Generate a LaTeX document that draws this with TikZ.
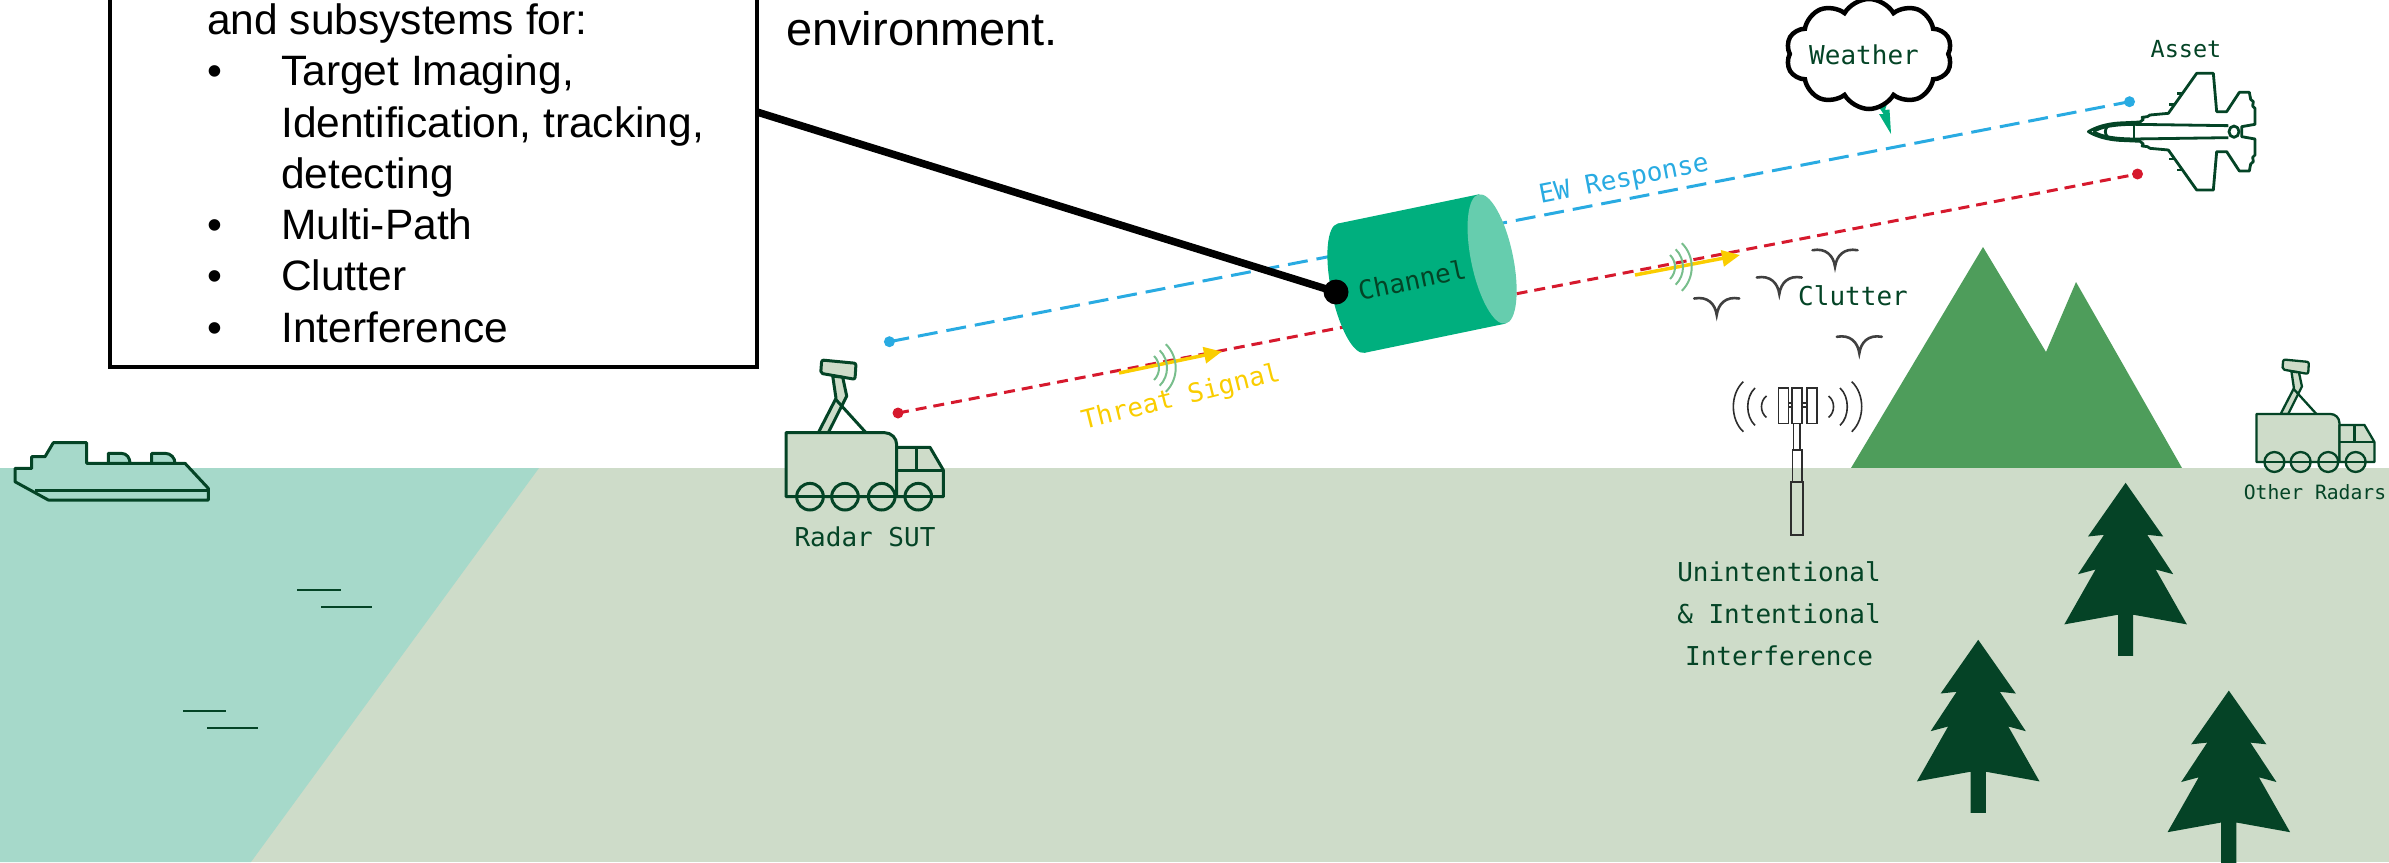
\documentclass[tikz,border=0pt]{standalone}
\usepackage{fontspec}
\setmainfont{Liberation Sans}
\setmonofont{DejaVu Sans Mono}
\usetikzlibrary{shapes.symbols,arrows.meta}

\definecolor{inkgreen}{RGB}{4,68,38}
\definecolor{groundcol}{RGB}{206,220,201}
\definecolor{watercol}{RGB}{166,217,202}
\definecolor{mountcol}{RGB}{78,157,91}
\definecolor{treecol}{RGB}{5,67,38}
\definecolor{chancol}{RGB}{0,175,126}
\definecolor{chanend}{RGB}{102,205,174}
\definecolor{ewblue}{RGB}{41,171,226}
\definecolor{threatred}{RGB}{214,25,45}
\definecolor{signalyellow}{RGB}{250,205,0}
\definecolor{wavegreen}{RGB}{120,190,140}
\definecolor{birdgray}{RGB}{64,64,64}
\definecolor{towergray}{RGB}{45,45,45}

\tikzset{
  monolabel/.style={font=\ttfamily\fontsize{26}{30}\selectfont, text=inkgreen, inner sep=0pt},
  boxtext/.style={font=\fontsize{42.5}{51}\selectfont, anchor=base west, inner sep=0pt},
  pinetree/.pic={
    \fill[treecol] (0,0) -- (37.6,53.7) -- (21.6,52) -- (47.6,91.4) -- (30.1,86.7)
      -- (61.3,141.6) -- (7.6,131.9) -- (7.6,173.1) -- (-7.6,173.1) -- (-7.6,131.9)
      -- (-61.3,141.6) -- (-30.1,86.7) -- (-47.6,91.4) -- (-21.6,52) -- (-37.6,53.7) -- cycle;
  },
  bird/.pic={
    \draw[birdgray, line width=2.6, line cap=round]
      (-22.5,-16.5) .. controls (-9,-19) and (-1.5,-11) .. (0,0)
      .. controls (1.5,-11) and (9,-19) .. (22.5,-16.5);
  },
  radiowaves/.pic={
    \foreach \r in {17,25,33.7}
      \draw[wavegreen, line width=2] (0,0) ++(-45:\r) arc[start angle=-45, end angle=45, radius=\r];
  },
  radartruck/.pic={
    \begin{scope}[draw=inkgreen, fill=groundcol, line join=round]
      % dish and its strut
      \filldraw[rounded corners=2] (35.7,-136.7) -- (70,-133.4) -- (69,-117.4) -- (34.7,-123.4) -- cycle;
      \filldraw (46.7,-120.7) -- (56.7,-119.4) -- (60.7,-100.7) -- (42.3,-64) -- (32.3,-64) -- (50,-98.4) -- cycle;
      \draw (50,-97) -- (80,-64);
      % shelter body with rounded roof corner
      \filldraw (0,0) -- (0,-64) -- (98.7,-64) arc[start angle=-90, end angle=0, radius=12] -- (110.7,0) -- cycle;
      % cab
      \filldraw (110.7,0) -- (110.7,-49.4) -- (144,-49.4) -- (157.3,-26.7) -- (157.3,0) -- cycle;
      \draw (130.7,-49.4) -- (130.7,-26.7) (110.7,-26.7) -- (157.3,-26.7);
      % wheels on the chassis line
      \foreach \wx in {24,59,95.7,132.3} \filldraw (\wx,0) circle[radius=13.3];
      \draw (0,0) -- (157.3,0);
    \end{scope}
  },
}

\begin{document}
\begin{tikzpicture}[x=1pt,y=-1pt]
\useasboundingbox (0,0) rectangle (2389,862);
\clip (0,0) rectangle (2389,862);

% mountains behind the horizon
\fill[mountcol] (1851,468) -- (1983,247) -- (2046,352) -- (2076,282) -- (2182,468) -- cycle;

% land and sea
\fill[groundcol] (0,468) rectangle (2389,862);
\fill[watercol] (0,468) -- (539,468) -- (251,862) -- (0,862) -- cycle;

% ripples on the water
\begin{scope}[draw=inkgreen, line width=2]
  \draw (297,590) -- (341,590) (321,607) -- (372,607);
  \draw (183,711) -- (226,711) (207,728) -- (258,728);
\end{scope}

% ship
\begin{scope}[draw=inkgreen, fill=watercol, line width=3, line join=round]
  \filldraw (108.3,463.3) -- (108.3,453.3) -- (121,453.3) .. controls (127,453.3) and (130,458) .. (130,463.3);
  \filldraw (151.7,463.3) -- (151.7,453.3) -- (165,453.3) .. controls (171,453.3) and (175,458) .. (175,463.3);
  \filldraw (15,468.3) -- (31.7,468.3) -- (31.7,456.7) -- (45,456.7) -- (53.3,442.7) -- (86.7,442.7)
    -- (86.7,463.3) -- (185,463.3) -- (208.3,488.3) -- (208.3,500) -- (48.3,500) -- (15,481.7) -- cycle;
  \draw (35,490) -- (208.3,490);
\end{scope}

% cell tower with radiating waves
\begin{scope}[draw=towergray, line width=1.6]
  \draw (1793.3,423.3) rectangle (1800,450);
  \draw (1792.3,450) rectangle (1801.7,481.7);
  \draw (1790.7,481.7) rectangle (1802.7,535);
  \filldraw[fill=white] (1788.3,402.7) rectangle (1806.7,406.7);
  \filldraw[fill=white] (1778.3,387.7) rectangle (1788.3,423.3);
  \filldraw[fill=white] (1791.7,387.7) rectangle (1801.7,423.3);
  \filldraw[fill=white] (1806.7,387.7) rectangle (1816.7,423.3);
  \draw (1766.5,396) .. controls (1759.8,401) and (1759.8,412.4) .. (1766.5,417.4);
  \draw (1755,388) .. controls (1745.3,397) and (1745.3,416.4) .. (1755,425.4);
  \draw (1743.3,381.7) .. controls (1730,394) and (1730,419.4) .. (1743.3,431.7);
  \draw (1828.5,396) .. controls (1835.2,401) and (1835.2,412.4) .. (1828.5,417.4);
  \draw (1840,388) .. controls (1849.7,397) and (1849.7,416.4) .. (1840,425.4);
  \draw (1851.7,381.7) .. controls (1865,394) and (1865,419.4) .. (1851.7,431.7);
\end{scope}

% forest
\pic at (2125.6,482.8) {pinetree};
\pic at (1978.2,639.8) {pinetree};
\pic at (2228.8,690.6) {pinetree};

% radar trucks
\pic[line width=3] at (786,496.7) {radartruck};
\pic[line width=2.3, scale=0.75] at (2256.4,462) {radartruck};
\node[monolabel] (sutlabel) at (865,537) {Radar SUT};
\node[monolabel, font=\ttfamily\fontsize{19.7}{23}\selectfont] (otherlabel) at (2315,492) {Other Radars};

% signal paths
\coordinate (ewstart) at (889.4,341.7);
\coordinate (ewend) at (2129.5,101.7);
\coordinate (thstart) at (898,413);
\coordinate (thend) at (2137.5,174);
\draw[ewblue, line width=3, dash pattern=on 20pt off 9pt] (ewstart) -- (ewend);
\draw[threatred, line width=3, dash pattern=on 11pt off 7pt] (thstart) -- (thend);
\fill[ewblue] (ewstart) circle[radius=5.5] (ewend) circle[radius=5.5];
\fill[threatred] (thstart) circle[radius=5.5] (thend) circle[radius=5.5];

% outgoing pulses
\coordinate (pulseAs) at (1119,373);
\coordinate (pulseAe) at (1222,351.5);
\coordinate (pulseBs) at (1635,275);
\coordinate (pulseBe) at (1740,255);
\draw[signalyellow, line width=3.5, -{Triangle[length=18pt,width=16pt]}] (pulseAs) -- (pulseAe);
\draw[signalyellow, line width=3.5, -{Triangle[length=18pt,width=16pt]}] (pulseBs) -- (pulseBe);
\pic at (1142,368) {radiowaves};
\pic at (1658,267) {radiowaves};

% clutter birds
\pic at (1835,266.7) {bird};
\pic at (1779.3,294) {bird};
\pic at (1716.7,315) {bird};
\pic at (1859.3,353.3) {bird};
\node[monolabel] (clutterlabel) at (1853,296) {Clutter};

% channel cylinder
\begin{scope}[shift={(1421.6,273.6)}, rotate=11.7]
  \fill[chancol] (-72,-66) rectangle (72,66);
  \fill[chancol] (-72,0) ellipse[x radius=20, y radius=66];
  \fill[chanend] (72,0) ellipse[x radius=21, y radius=66];
\end{scope}
\node[monolabel, rotate=11.7] (chanlabel) at (1412,280) {Channel};

% description box
\node[draw, line width=4, minimum width=647, minimum height=440, anchor=south west, inner sep=0pt, outer sep=0pt] (scopebox) at (110,367) {};
\node[boxtext] (boxline0) at (207,34) {and subsystems for:};
\node[boxtext] (bullet1) at (207,85) {•};
\node[boxtext] (boxline1) at (281,85) {Target Imaging,};
\node[boxtext] (boxline2) at (281,137) {Identification, tracking,};
\node[boxtext] (boxline3) at (281,188) {detecting};
\node[boxtext] (bullet2) at (207,239) {•};
\node[boxtext] (boxline4) at (281,239) {Multi-Path};
\node[boxtext] (bullet3) at (207,290) {•};
\node[boxtext] (boxline5) at (281,290) {Clutter};
\node[boxtext] (bullet4) at (207,342) {•};
\node[boxtext] (boxline6) at (281,342) {Interference};
\node[boxtext, font=\fontsize{47}{56}\selectfont] (envtext) at (786,45) {environment.};

% pointer from the box to the channel
\coordinate (boxpin) at (757,112);
\coordinate (chanpin) at (1336,292);
\draw[line width=7.5] (boxpin) -- (chanpin);
\fill (chanpin) circle[radius=12.5];

% weather
\fill[chancol] (1873,98) -- (1889,98) -- (1885,110) -- (1889.5,109.5) -- (1891,134) -- (1879,114) -- (1883.5,114) -- cycle;
\node[cloud, cloud puffs=10, cloud puff arc=120, cloud ignores aspect, minimum width=166pt, minimum height=110pt,
      draw=black, line width=4.5pt, fill=white, inner sep=0pt] (weathercloud) at (1869,54) {};
\node[monolabel] (weatherlabel) at (1864,55) {Weather};

% asset aircraft
\node[monolabel, font=\ttfamily\fontsize{23.5}{28}\selectfont] (assetlabel) at (2186,49) {Asset};
\begin{scope}[shift={(2060,60)}, x=0.3333pt, y=-0.3333pt, draw=inkgreen, line width=2.8, line join=round]
  \filldraw[fill=white] (85,215) .. controls (110,200) and (140,192) .. (175,189) -- (240,186) -- (250,178)
    -- (246,172) -- (262,170) -- (270,165) -- (325,160) -- (410,40) -- (460,40) -- (470,155) -- (500,155)
    -- (538,97) -- (568,97) -- (572,118) -- (580,125) -- (578,138) -- (585,145) -- (585,193) -- (545,200)
    -- (545,230) -- (585,237) -- (585,285) -- (578,292) -- (580,305) -- (572,312) -- (568,333) -- (538,333)
    -- (500,275) -- (470,275) -- (460,390) -- (410,390) -- (325,270) -- (270,265) -- (262,260) -- (246,258)
    -- (250,252) -- (240,244) -- (175,241) .. controls (140,238) and (110,230) .. (85,215) -- cycle;
  \draw (344,133) -- (328,133) (367,100) -- (352,100) (344,297) -- (328,297) (367,330) -- (352,330);
  \draw (100,215) .. controls (125,200) and (160,194) .. (222,193) -- (505,197);
  \draw (100,215) .. controls (125,230) and (160,236) .. (222,237) -- (505,233);
  \draw (222,193) -- (222,237);
  \draw (142,200) .. controls (134,208) and (134,222) .. (142,230);
  \draw (522,215) ellipse[x radius=15, y radius=17];
\end{scope}

% path labels
\node[monolabel, text=ewblue, rotate=11] (ewlabel) at (1624,180) {EW Response};
\node[monolabel, text=signalyellow, rotate=14] (threatlabel) at (1181,398) {Threat Signal};
\node[monolabel, align=center, font=\ttfamily\fontsize{26}{42}\selectfont] (interflabel) at (1779,614)
  {Unintentional\\\& Intentional\\Interference};
\end{tikzpicture}
\end{document}
